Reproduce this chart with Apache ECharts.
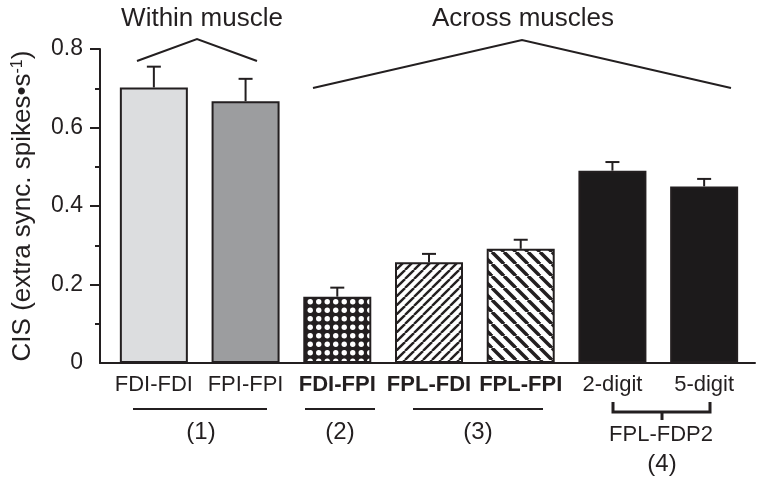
<!DOCTYPE html>
<html>
<head>
<meta charset="utf-8">
<script src="https://cdn.jsdelivr.net/npm/echarts@6/dist/echarts.min.js"></script>
<style>
  html, body { margin: 0; padding: 0; background: #fff; }
  #main { width: 764px; height: 485px; }
</style>
</head>
<body>
<div id="main"></div>
<script>
// CIS values (mean and top of the error bar)
var categories = ['FDI-FDI', 'FPI-FPI', 'FDI-FPI', 'FPL-FDI', 'FPL-FPI', '2-digit', '5-digit']
var boldLabels = ['FDI-FPI', 'FPL-FDI', 'FPL-FPI']
var cisMean = [0.702, 0.667, 0.169, 0.257, 0.291, 0.490, 0.450]
var cisUpper = [0.755, 0.724, 0.192, 0.278, 0.314, 0.512, 0.469]
var yTicks = [0, 0.2, 0.4, 0.6, 0.8]
var yMajorTicks = [0.2, 0.4, 0.6, 0.8]
var yMinorTicks = [0.1, 0.3, 0.5, 0.7]

var ink = '#231f20'
var font = 'Liberation Sans, Arial, Helvetica, sans-serif'

// fill patterns
function dotPattern() {
  var c = document.createElement('canvas')
  c.width = 17
  c.height = 17
  var ctx = c.getContext('2d')
  ctx.fillStyle = ink
  ctx.fillRect(0, 0, 17, 17)
  ctx.fillStyle = '#fff'
  var pts = [[4.25, 4.25], [12.75, 4.25], [4.25, 12.75], [12.75, 12.75]]
  pts.forEach(function(p) {
    ctx.beginPath()
    ctx.arc(p[0], p[1], 2.7, 0, Math.PI * 2)
    ctx.fill()
  })
  return c
}
function hatchPattern(size, width, forward) {
  var c = document.createElement('canvas')
  c.width = size
  c.height = size
  var ctx = c.getContext('2d')
  ctx.fillStyle = '#fff'
  ctx.fillRect(0, 0, size, size)
  ctx.strokeStyle = ink
  ctx.lineWidth = width
  for (var k = -1; k <= 1; k++) {
    ctx.beginPath()
    if (forward) {
      ctx.moveTo(k * size, size)
      ctx.lineTo(k * size + size, 0)
    } else {
      ctx.moveTo(k * size, 0)
      ctx.lineTo(k * size + size, size)
    }
    ctx.stroke()
  }
  return c
}

var fills = [
  '#dcdddf',
  '#9c9d9f',
  { image: dotPattern(), repeat: 'repeat' },
  { image: hatchPattern(9, 2.4, true), repeat: 'repeat' },
  { image: hatchPattern(12, 3.5, false), repeat: 'repeat' },
  '#1c1a1b',
  '#1c1a1b'
]

var chart = echarts.init(document.getElementById('main'))

var option = {
  animation: false,
  backgroundColor: '#fff',
  textStyle: { fontFamily: font, color: ink },
  grid: [
    { left: 108, right: 14, top: 49, bottom: 122 },
    { left: 100, right: 9, top: 49, bottom: 122 }
  ],
  xAxis: [
    {
      type: 'category',
      gridIndex: 0,
      data: categories.map(function(c) {
        return boldLabels.indexOf(c) >= 0 ? { value: c, textStyle: { fontWeight: 'bold' } } : c
      }),
      axisLine: { show: false },
      axisTick: { show: false },
      axisLabel: { color: ink, fontSize: 22, margin: 11, fontFamily: font, interval: 0 }
    },
    {
      type: 'value',
      gridIndex: 1,
      min: 0,
      max: 1,
      axisLine: { show: true, lineStyle: { color: ink, width: 2 } },
      axisTick: { show: false },
      axisLabel: { show: false },
      splitLine: { show: false }
    }
  ],
  yAxis: [
    { type: 'value', gridIndex: 0, min: 0, max: 0.8, show: false },
    {
      type: 'value',
      gridIndex: 1,
      min: 0,
      max: 0.8,
      interval: 0.2,
      name: 'CIS (extra sync. spikes\u2022s{sup|-1})',
      nameLocation: 'middle',
      nameGap: 64,
      nameTextStyle: {
        fontSize: 26,
        color: ink,
        fontFamily: font,
        rich: { sup: { fontSize: 16, verticalAlign: 'top', padding: [0, 0, 9, 0], fontFamily: font, color: ink } }
      },
      axisLine: { show: true, lineStyle: { color: ink, width: 2 } },
      axisTick: { show: true, inside: false, length: 10, customValues: yMajorTicks, lineStyle: { color: ink, width: 2 } },
      axisLabel: {
        customValues: yTicks,
        fontSize: 23,
        color: ink,
        margin: 17,
        fontFamily: font,
        formatter: function(v) { return v === 0 ? '0' : v.toFixed(1) }
      },
      splitLine: { show: false }
    },
    {
      type: 'value',
      gridIndex: 1,
      min: 0,
      max: 0.8,
      position: 'left',
      axisLine: { show: false },
      axisTick: { show: true, inside: false, length: 5, customValues: yMinorTicks, lineStyle: { color: ink, width: 2 } },
      axisLabel: { show: false },
      splitLine: { show: false }
    }
  ],
  series: [
    {
      type: 'bar',
      xAxisIndex: 0,
      yAxisIndex: 0,
      barWidth: 68,
      data: cisMean.map(function(v, i) {
        return { value: v, itemStyle: { color: fills[i], borderColor: ink, borderWidth: 2 } }
      }),
      z: 2
    },
    {
      type: 'custom',
      xAxisIndex: 0,
      yAxisIndex: 0,
      z: 3,
      data: categories.map(function(c, i) { return [i, cisMean[i], cisUpper[i]] }),
      renderItem: function(params, api) {
        var p0 = api.coord([api.value(0), api.value(1)])
        var p1 = api.coord([api.value(0), api.value(2)])
        var st = { stroke: ink, lineWidth: 2 }
        return {
          type: 'group',
          children: [
            { type: 'line', shape: { x1: p0[0], y1: p0[1], x2: p1[0], y2: p1[1] }, style: st },
            { type: 'line', shape: { x1: p1[0] - 7, y1: p1[1], x2: p1[0] + 7, y2: p1[1] }, style: st }
          ]
        }
      }
    }
  ],
  graphic: [
    // group headings
    { type: 'text', x: 202, y: 19, style: { text: 'Within muscle', font: '26px ' + font, fill: ink, align: 'center', verticalAlign: 'middle' } },
    { type: 'polyline', shape: { points: [[137, 61], [197, 39], [257, 61]] }, style: { stroke: ink, lineWidth: 2, fill: null } },
    { type: 'text', x: 523, y: 19, style: { text: 'Across muscles', font: '26px ' + font, fill: ink, align: 'center', verticalAlign: 'middle' } },
    { type: 'polyline', shape: { points: [[313, 88], [522, 40], [731, 88]] }, style: { stroke: ink, lineWidth: 2, fill: null } },
    // comparison groups under the axis
    { type: 'line', shape: { x1: 133, y1: 409, x2: 267, y2: 409 }, style: { stroke: ink, lineWidth: 2 } },
    { type: 'line', shape: { x1: 305, y1: 409, x2: 375, y2: 409 }, style: { stroke: ink, lineWidth: 2 } },
    { type: 'line', shape: { x1: 413, y1: 409, x2: 543, y2: 409 }, style: { stroke: ink, lineWidth: 2 } },
    { type: 'text', x: 201, y: 432, style: { text: '(1)', font: '24px ' + font, fill: ink, align: 'center', verticalAlign: 'middle' } },
    { type: 'text', x: 340, y: 432, style: { text: '(2)', font: '24px ' + font, fill: ink, align: 'center', verticalAlign: 'middle' } },
    { type: 'text', x: 478, y: 432, style: { text: '(3)', font: '24px ' + font, fill: ink, align: 'center', verticalAlign: 'middle' } },
    { type: 'polyline', shape: { points: [[613, 402], [613, 412], [710, 412], [710, 402]] }, style: { stroke: ink, lineWidth: 3, fill: null } },
    { type: 'line', shape: { x1: 662, y1: 412, x2: 662, y2: 420 }, style: { stroke: ink, lineWidth: 3 } },
    { type: 'text', x: 661, y: 435, style: { text: 'FPL-FDP2', font: '22px ' + font, fill: ink, align: 'center', verticalAlign: 'middle' } },
    { type: 'text', x: 662, y: 464, style: { text: '(4)', font: '24px ' + font, fill: ink, align: 'center', verticalAlign: 'middle' } }
  ]
}

chart.setOption(option)
</script>
</body>
</html>
